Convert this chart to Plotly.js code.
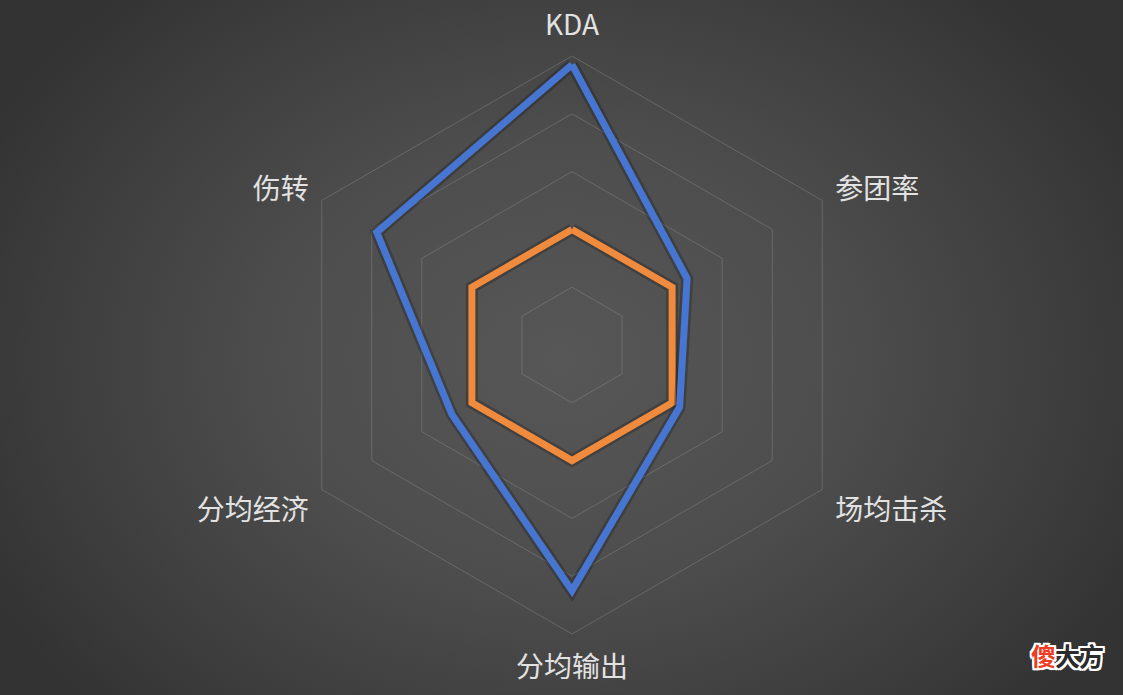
<!DOCTYPE html>
<html>
<head>
<meta charset="utf-8">
<script src="https://cdn.plot.ly/plotly-3.0.1.min.js"></script>
<style>
  html, body { margin: 0; padding: 0; }
  body {
    width: 1123px; height: 695px; overflow: hidden; position: relative;
    background: radial-gradient(ellipse 640px 500px at 560px 360px, #575757 0%, #4d4d4d 45%, #3d3d3d 80%, #333333 100%);
  }
  #chart { width: 1123px; height: 695px; }
  #mark {
    position: absolute; left: 1031px; top: 637px;
    font-family: "Noto Sans CJK SC", sans-serif; font-size: 25px; font-weight: 700;
    color: #2b2b2b; letter-spacing: -1px;
    text-shadow: 2px 0 0 #fff, -2px 0 0 #fff, 0 2px 0 #fff, 0 -2px 0 #fff,
                 2px 2px 0 #fff, -2px -2px 0 #fff, 2px -2px 0 #fff, -2px 2px 0 #fff;
  }
  #mark span { color: #ee3b22; }
</style>
</head>
<body>
<div id="chart"></div>
<div id="mark"><span>傻</span>大方</div>
<script>
const axes = ["KDA", "参团率", "场均击杀", "分均输出", "分均经济", "伤转"];
const blueVals = [97, 46, 43, 85, 48, 78];
const orangeVals = [40, 40, 40, 40, 40, 40];

const closeLoop = arr => arr.concat([arr[0]]);
const theta = closeLoop(axes);

function series(vals, color, width) {
  return {
    type: 'scatterpolar',
    r: closeLoop(vals),
    theta: theta,
    mode: 'lines',
    line: { color: color, width: width },
    hoverinfo: 'skip',
    showlegend: false
  };
}

// soft dark halo under each outline, then the coloured line
const traces = [
  series(orangeVals, 'rgba(0,0,0,0.22)', 12),
  series(orangeVals, '#f08a3c', 7),
  series(blueVals, 'rgba(0,0,0,0.22)', 12),
  series(blueVals, '#4676d2', 7)
];

const layout = {
  width: 1123,
  height: 695,
  margin: { l: 0, r: 0, t: 0, b: 0 },
  paper_bgcolor: 'rgba(0,0,0,0)',
  plot_bgcolor: 'rgba(0,0,0,0)',
  showlegend: false,
  polar: {
    domain: { x: [0.252, 0.7667], y: [0.0878, 0.9194] },
    bgcolor: 'rgba(0,0,0,0)',
    gridshape: 'linear',
    radialaxis: {
      range: [0, 100],
      dtick: 20,
      showticklabels: false,
      ticks: '',
      showline: false,
      gridcolor: 'rgba(140,140,140,0.45)',
      gridwidth: 1
    },
    angularaxis: {
      direction: 'clockwise',
      rotation: 90,
      showgrid: false,
      linecolor: 'rgba(140,140,140,0.45)',
      linewidth: 1,
      ticks: 'outside',
      ticklen: 9,
      tickcolor: 'rgba(0,0,0,0)',
      tickfont: { family: '"Noto Sans CJK SC", "Noto Sans", sans-serif', size: 28, color: '#e2e2e2' }
    }
  }
};

Plotly.newPlot('chart', traces, layout, { displayModeBar: false, staticPlot: true });
</script>
</body>
</html>
